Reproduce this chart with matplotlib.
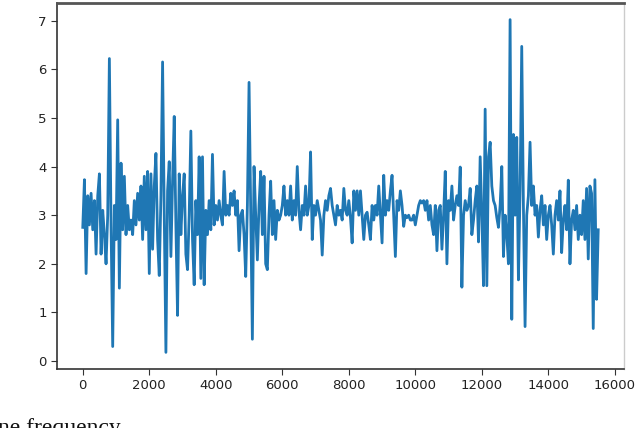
import numpy as np
import matplotlib
matplotlib.use("Agg")
import matplotlib.pyplot as plt

# sample index step 50, from 0 to 15500
x_start, x_stop, x_step = 0, 15500, 50

values = [
    # 0 - 950
    2.75, 3.73, 1.8, 3.4, 2.8, 3.45, 2.7, 3.3, 2.2, 3.4,
    3.85, 2.2, 3.1, 2.6, 2.0, 3.0, 6.22, 2.8, 0.3, 3.2,
    # 1000 - 1950
    2.5, 4.96, 1.5, 4.07, 2.7, 3.8, 2.6, 3.2, 2.7, 2.9,
    2.6, 3.3, 2.8, 3.45, 2.9, 3.6, 2.5, 3.8, 2.7, 3.9,
    # 2000 - 2950
    1.8, 3.85, 2.3, 3.6, 4.27, 2.5, 1.76, 3.4, 6.15, 3.0,
    0.18, 3.5, 4.1, 2.15, 3.7, 5.03, 2.8, 0.94, 3.85, 2.6,
    # 3000 - 3950
    3.4, 3.85, 2.2, 1.88, 3.0, 4.73, 2.5, 1.57, 3.3, 2.6,
    4.2, 1.7, 4.2, 1.57, 3.1, 2.6, 3.3, 2.7, 4.25, 2.8,
    # 4000 - 4950
    3.2, 2.9, 3.3, 3.0, 2.8, 3.9, 3.0, 3.2, 3.0, 3.45,
    3.2, 3.5, 3.0, 3.3, 2.27, 3.0, 3.1, 2.6, 1.74, 3.2,
    # 5000 - 5950
    5.73, 3.1, 0.45, 4.0, 3.0, 2.08, 3.2, 3.9, 2.6, 3.8,
    2.0, 1.88, 3.0, 3.7, 2.6, 3.3, 2.5, 3.1, 2.9, 3.0,
    # 6000 - 6950
    3.2, 3.6, 3.0, 3.3, 3.0, 3.6, 2.9, 3.3, 3.0, 4.0,
    3.1, 2.7, 3.2, 3.0, 3.6, 3.0, 3.2, 4.3, 2.5, 3.2,
    # 7000 - 7950
    3.0, 3.3, 3.1, 2.9, 2.18, 3.0, 3.3, 3.1, 3.4, 3.55,
    3.2, 3.0, 2.8, 3.2, 3.0, 3.1, 2.9, 3.55, 3.1, 3.0,
    # 8000 - 8950
    3.3, 2.95, 2.43, 3.5, 3.1, 3.5, 3.0, 3.5, 3.0, 2.5,
    3.0, 3.06, 2.8, 2.5, 3.2, 2.9, 3.2, 3.0, 3.6, 3.0,
    # 9000 - 9950
    2.43, 3.82, 3.0, 3.3, 3.1, 3.5, 3.82, 3.0, 2.15, 3.3,
    3.1, 3.5, 3.2, 2.77, 3.0, 2.95, 3.0, 2.9, 2.9, 3.0,
    # 10000 - 10950
    2.8, 3.0, 3.2, 3.3, 3.25, 3.3, 3.1, 3.3, 2.9, 3.2,
    2.8, 2.6, 3.2, 2.27, 3.1, 3.2, 2.3, 3.0, 3.9, 2.0,
    # 11000 - 11950
    3.3, 3.1, 3.6, 2.9, 3.2, 3.4, 3.2, 3.99, 1.52, 3.0,
    3.3, 3.1, 3.2, 3.55, 2.6, 2.9, 3.3, 3.6, 2.45, 4.2,
    # 12000 - 12950
    3.0, 1.55, 5.18, 1.55, 4.2, 4.5, 3.6, 3.3, 3.2, 2.95,
    2.75, 3.2, 4.0, 2.15, 3.0, 2.6, 2.0, 7.02, 0.86, 4.66,
    # 13000 - 13950
    3.0, 4.6, 1.67, 3.5, 6.47, 3.2, 0.71, 3.0, 3.4, 4.5,
    3.2, 3.6, 3.0, 3.2, 2.55, 3.1, 3.4, 2.8, 3.2, 2.5,
    # 14000 - 14950
    3.0, 3.2, 2.8, 2.2, 3.0, 3.3, 2.9, 3.5, 2.23, 2.9,
    3.2, 2.7, 3.72, 2.0, 2.9, 3.1, 2.7, 3.2, 2.5, 3.0,
    # 15000 - 15500
    2.6, 3.3, 2.5, 3.55, 2.1, 3.6, 3.45, 0.67, 3.73, 1.27,
    2.7,
]

x_ticks = [0, 2000, 4000, 6000, 8000, 10000, 12000, 14000, 16000]
y_ticks = [0, 1, 2, 3, 4, 5, 6, 7]
caption = "ne frequency"

x = np.arange(x_start, x_stop + 1, x_step)

fig = plt.figure(figsize=(6.4, 4.28), dpi=100)
ax = fig.add_axes([57 / 640, 1 - 369 / 428, (624 - 57) / 640, (369 - 3) / 428])
ax.plot(x, values, color="#1f77b4", linewidth=2.0)

ax.set_xticks(x_ticks)
ax.set_yticks(y_ticks)
ax.tick_params(labelsize=9.5, colors="#333333", length=4)
ax.tick_params(axis="both", labelcolor="#222222")
ax.margins(x=0.05, y=0.05)

for side in ["left", "bottom"]:
    ax.spines[side].set_color("#333333")
    ax.spines[side].set_linewidth(1.2)
ax.spines["top"].set_color("#555555")
ax.spines["top"].set_linewidth(2.0)
ax.spines["right"].set_color("#cccccc")
ax.spines["right"].set_linewidth(1.0)

fig.text(-0.003, -0.013, caption, family="Liberation Serif", fontsize=17,
         ha="left", va="baseline", color="#111111")

fig.savefig("out.png", dpi=100)
